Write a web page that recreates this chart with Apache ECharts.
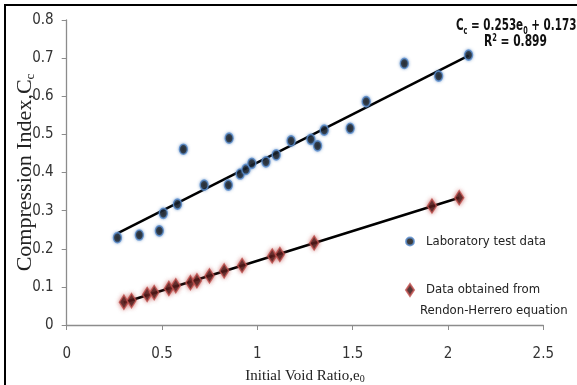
<!DOCTYPE html>
<html>
<head>
<meta charset="utf-8">
<script src="https://cdn.jsdelivr.net/npm/echarts@6/dist/echarts.min.js"></script>
<style>
  html, body { margin: 0; padding: 0; background: #fff; }
  #chart { width: 577px; height: 385px; }
</style>
</head>
<body>
<div id="chart"></div>
<script>
// Initial void ratio (e0) and compression index (Cc) from laboratory tests
const labE0 = [0.266, 0.381, 0.486, 0.507, 0.581, 0.612, 0.721, 0.852, 0.848, 0.910, 0.940, 0.971,
               1.045, 1.099, 1.177, 1.281, 1.316, 1.351, 1.487, 1.571, 1.771, 1.951, 2.108];
const labCc = [0.229, 0.236, 0.247, 0.293, 0.317, 0.461, 0.367, 0.490, 0.367, 0.396, 0.408, 0.424,
               0.428, 0.446, 0.483, 0.487, 0.470, 0.511, 0.516, 0.586, 0.686, 0.653, 0.708];

// Cc values computed with the Rendon-Herrero equation
const rhE0 = [0.300, 0.340, 0.422, 0.459, 0.536, 0.572, 0.649, 0.683, 0.749, 0.826, 0.920,
              1.078, 1.118, 1.298, 1.916, 2.059];
const rhCc = [0.060, 0.064, 0.080, 0.085, 0.096, 0.103, 0.111, 0.116, 0.129, 0.142, 0.156,
              0.181, 0.185, 0.215, 0.312, 0.334];

// Fitted line for the laboratory data
const fitSlope = 0.253;
const fitIntercept = 0.173;
const eqLabel = 'C{sub|c} = 0.253e{sub|0} + 0.173';
const r2Label = 'R{sup|2} = 0.899';

const xTicks = [0, 0.5, 1, 1.5, 2, 2.5];
const yTicks = [0, 0.1, 0.2, 0.3, 0.4, 0.5, 0.6, 0.7, 0.8];

const labName = 'Laboratory test data';
const rhName = 'Data obtained from';
const rhName2 = 'Rendon-Herrero equation';

// least-squares line for the equation-derived points
function linFit(xs, ys) {
  const n = xs.length;
  let sx = 0, sy = 0, sxx = 0, sxy = 0;
  for (let i = 0; i < n; i++) { sx += xs[i]; sy += ys[i]; sxx += xs[i] * xs[i]; sxy += xs[i] * ys[i]; }
  const b = (n * sxy - sx * sy) / (n * sxx - sx * sx);
  return { b: b, a: (sy - b * sx) / n };
}
function lineEnds(xs, slope, icpt) {
  const lo = Math.min.apply(null, xs), hi = Math.max.apply(null, xs);
  return [[lo, slope * lo + icpt], [hi, slope * hi + icpt]];
}
const rhFit = linFit(rhE0, rhCc);

const narrow = "'DejaVu Sans Condensed', 'Liberation Sans', sans-serif";
const serif = "'Liberation Serif', 'DejaVu Serif', serif";

const chart = echarts.init(document.getElementById('chart'), null, { renderer: 'canvas' });
chart.setOption({
  animation: false,
  backgroundColor: '#fff',
  grid: { left: 66.7, right: 33.7, top: 20, bottom: 60, containLabel: false, outerBoundsMode: 'none' },
  xAxis: {
    type: 'value', min: xTicks[0], max: xTicks[xTicks.length - 1], interval: 0.5,
    name: 'Initial Void Ratio,e{sub|0}', nameLocation: 'middle', nameGap: 43, nameMoveOverlap: false,
    nameTextStyle: {
      fontFamily: serif, fontSize: 15, color: '#222',
      rich: { sub: { fontFamily: serif, fontSize: 10, verticalAlign: 'bottom', padding: [6, 0, 0, 0] } }
    },
    axisLine: { lineStyle: { color: '#8c8c8c', width: 1.3 } },
    axisTick: { show: true, length: 5, lineStyle: { color: '#8c8c8c' } },
    axisLabel: { fontFamily: narrow, fontSize: 15, color: '#333', margin: 22 },
    splitLine: { show: false }
  },
  yAxis: {
    type: 'value', min: yTicks[0], max: yTicks[yTicks.length - 1], interval: 0.1,
    name: 'Compression Index,C{sub|c}', nameLocation: 'middle', nameGap: 30, nameRotate: 90,
    nameMoveOverlap: false,
    nameTextStyle: {
      fontFamily: serif, fontSize: 22, color: '#222',
      rich: { sub: { fontFamily: serif, fontSize: 13, padding: [10, 0, 0, 0] } }
    },
    axisLine: { show: true, lineStyle: { color: '#8c8c8c', width: 1.3 } },
    axisTick: { show: true, length: 5, lineStyle: { color: '#8c8c8c' } },
    axisLabel: { fontFamily: narrow, fontSize: 15, color: '#333', margin: 13,
                 formatter: v => (v === 0 ? '0' : v.toFixed(1)) },
    splitLine: { show: false }
  },
  legend: {
    orient: 'vertical', left: 400, top: 230, itemWidth: 8, itemHeight: 12, itemGap: 35,
    data: [labName, rhName],
    textStyle: { fontFamily: narrow, fontSize: 13, color: '#222', padding: [0, 0, 0, 7] }
  },
  graphic: [
    { type: 'rect', shape: { x: 5, y: 5, width: 620, height: 420 },
      style: { fill: 'none', stroke: '#000', lineWidth: 2 }, silent: true },
    { type: 'text', x: 420, y: 304, silent: true,
      style: { text: rhName2, font: "13px " + narrow, fill: '#222' } },
    { type: 'text', x: 456, y: 16, scaleX: 0.72, silent: true,
      style: { text: eqLabel, font: "bold 16px " + narrow, fill: '#111',
               rich: { sub: { font: "bold 10px " + narrow, padding: [10, 0, 0, 0] } } } },
    { type: 'text', x: 484, y: 33, scaleX: 0.74, silent: true,
      style: { text: r2Label, font: "bold 16px " + narrow, fill: '#111',
               rich: { sup: { font: "bold 10px " + narrow, padding: [0, 0, 8, 0] } } } }
  ],
  series: [
    {
      name: 'lab fit', type: 'line', data: lineEnds(labE0, fitSlope, fitIntercept),
      showSymbol: false, lineStyle: { color: '#000', width: 2.5 }, z: 1, silent: true
    },
    {
      name: 'rh fit', type: 'line', data: lineEnds(rhE0, rhFit.b, rhFit.a),
      showSymbol: false, lineStyle: { color: '#000', width: 2.5 }, z: 1, silent: true
    },
    {
      name: labName, type: 'scatter', symbol: 'circle', symbolSize: [8, 10],
      data: labE0.map((e, i) => [e, labCc[i]]),
      itemStyle: { color: '#0d0d0d', borderColor: '#5b8fd0', borderWidth: 1.5,
                   shadowColor: 'rgba(79,129,189,0.7)', shadowBlur: 3 },
      z: 3
    },
    {
      name: rhName, type: 'scatter', symbol: 'diamond', symbolSize: [9, 14],
      data: rhE0.map((e, i) => [e, rhCc[i]]),
      itemStyle: { color: '#2a0606', borderColor: '#c0504d', borderWidth: 1.5,
                   shadowColor: 'rgba(192,80,77,0.8)', shadowBlur: 4 },
      z: 3
    }
  ]
});
</script>
</body>
</html>
